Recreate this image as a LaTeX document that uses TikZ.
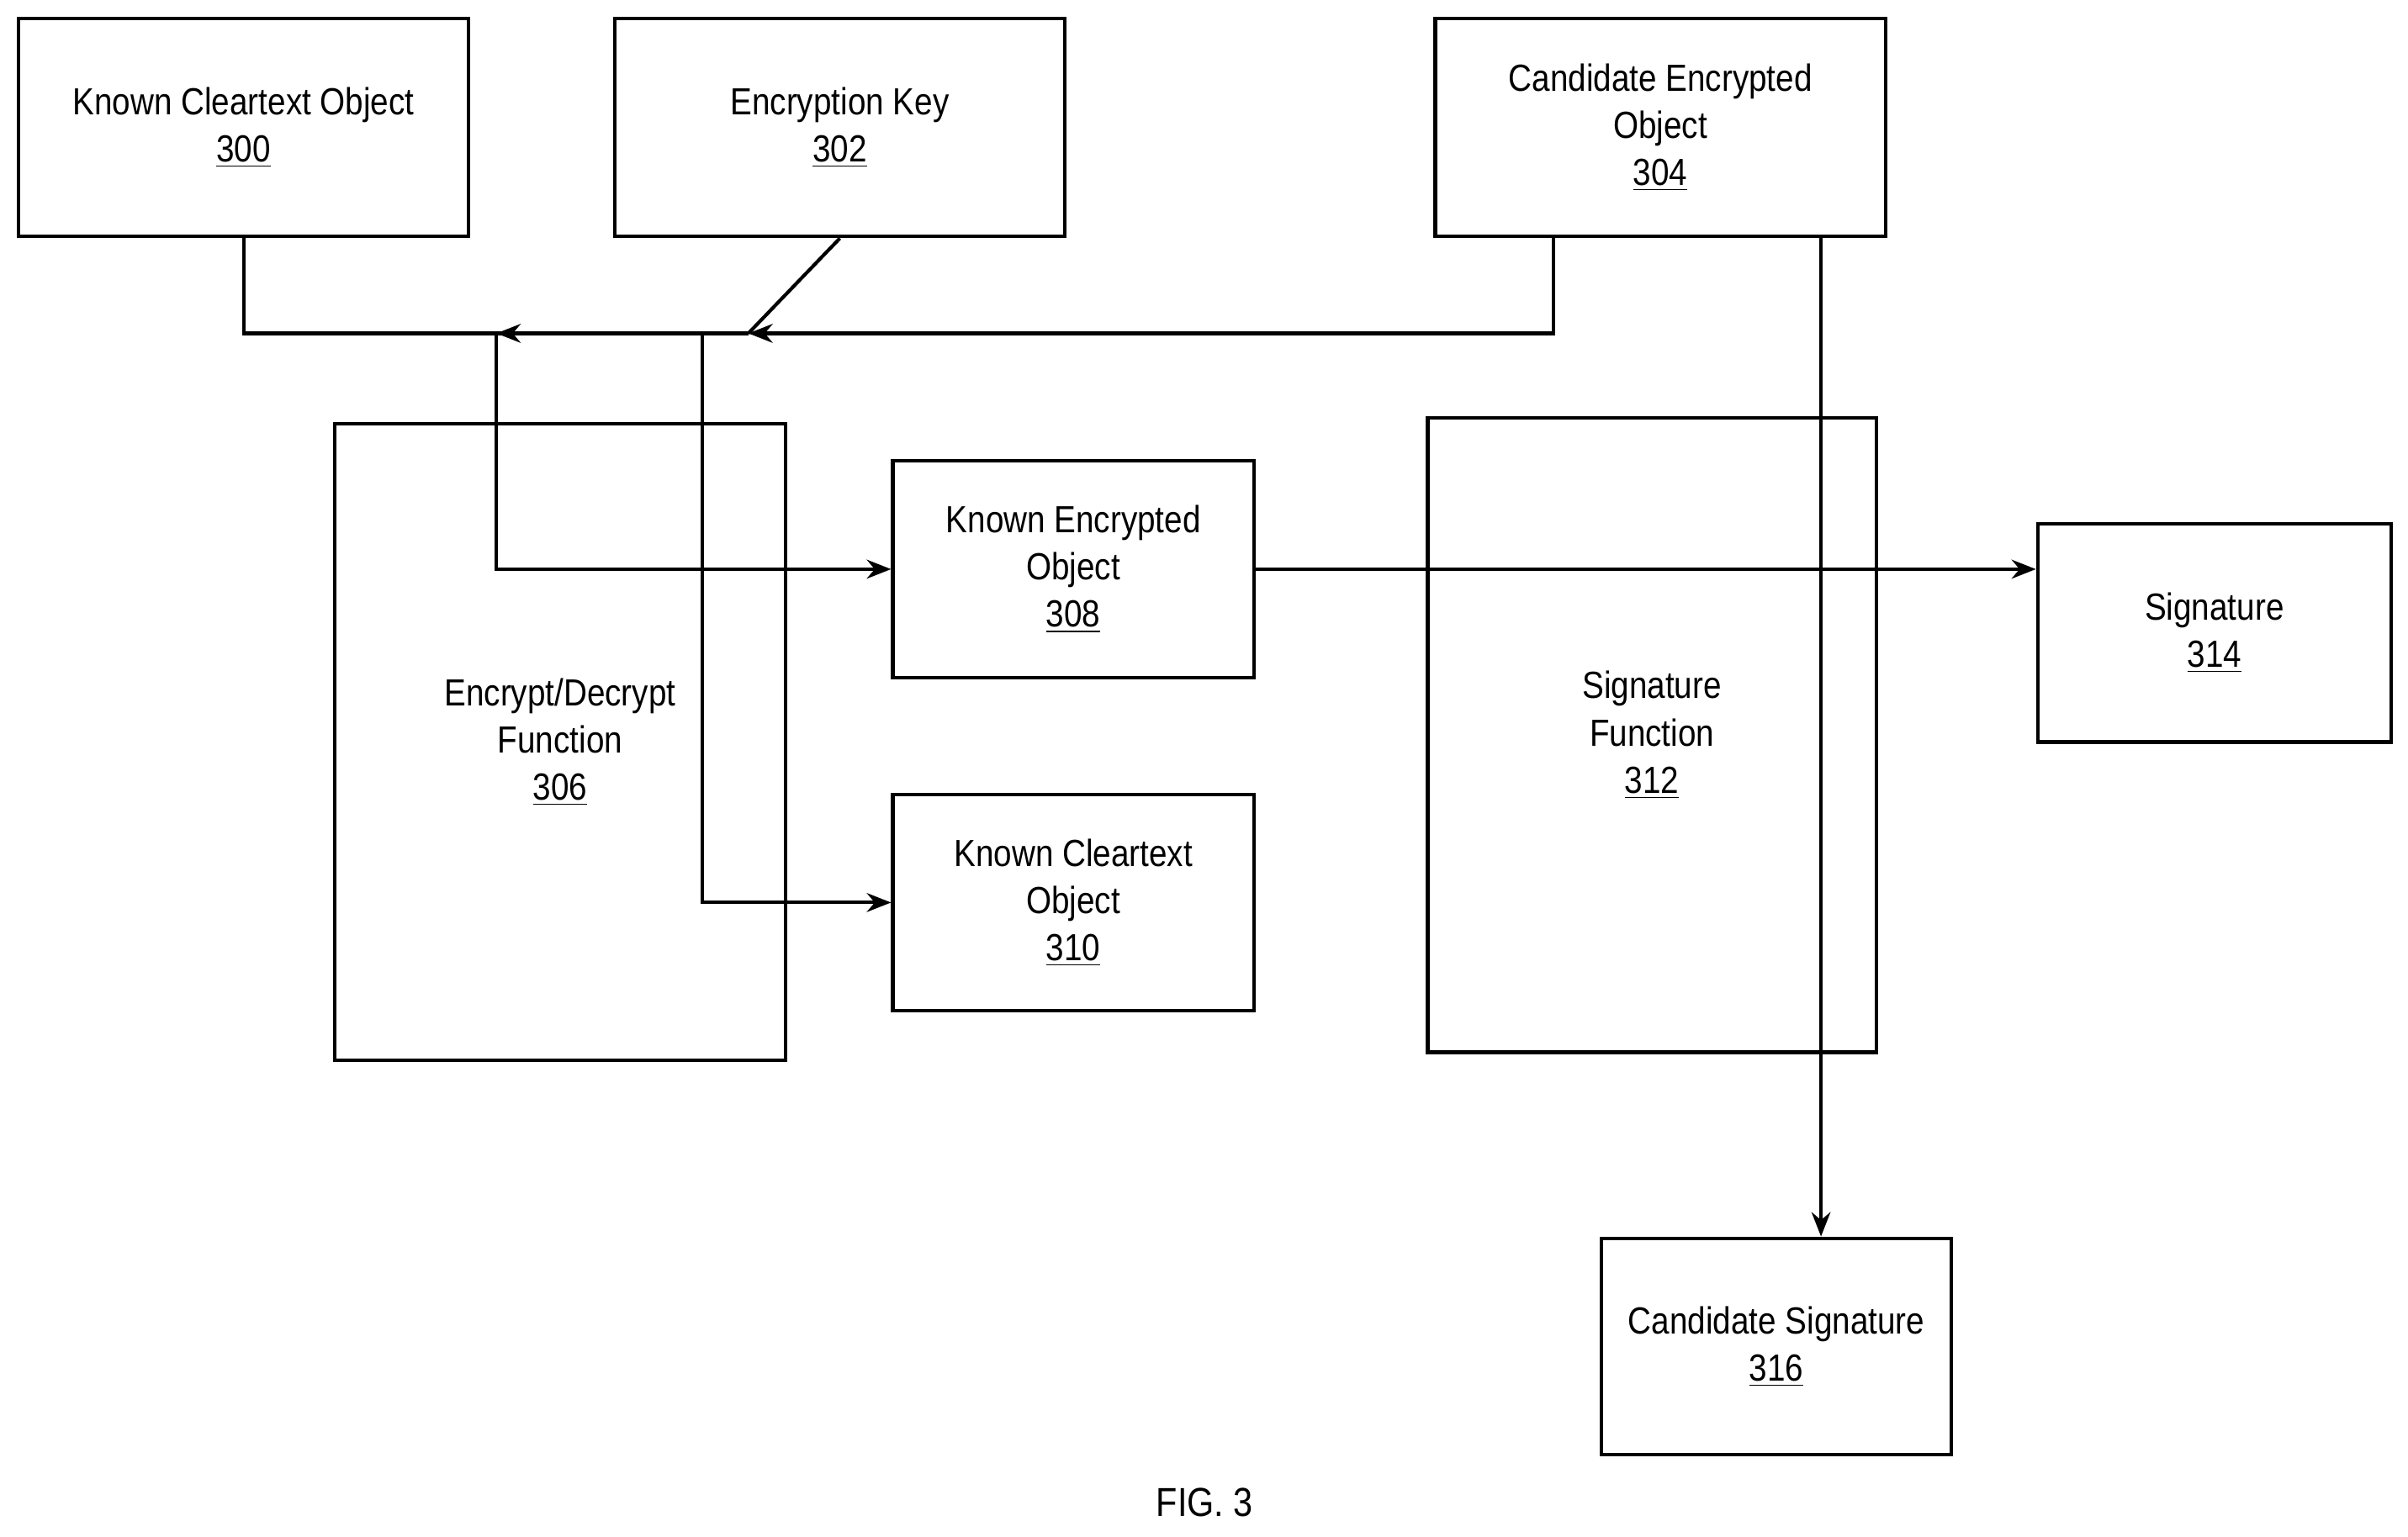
\documentclass[tikz,border=0pt]{standalone}
\usepackage{fontspec}
\setmainfont{Liberation Sans}[FakeStretch=0.86]
\usetikzlibrary{arrows.meta}

\tikzset{
  box/.style={draw, line width=1.3pt, align=center, inner sep=2pt,
    font=\fontsize{14}{17.5}\selectfont},
  arr/.style={-{Stealth[length=9pt,width=7pt]}},
}

\begin{document}
\begin{tikzpicture}[x=0.02cm,y=-0.02cm,line width=1.3pt]
	\useasboundingbox (0,0) rectangle (1567,1000);

	\node[box, minimum width=5.86cm, minimum height=2.84cm] (k300) at (158.5,83) {Known Cleartext Object\\\underline{300}};
	\node[box, minimum width=5.86cm, minimum height=2.84cm] (k302) at (546.5,83) {Encryption Key\\\underline{302}};
	\node[box, minimum width=5.86cm, minimum height=2.84cm] (k304) at (1080.5,83) {Candidate Encrypted\\Object\\\underline{304}};
	\node[box, minimum width=5.86cm, minimum height=8.28cm] (k306) at (364.5,483) {Encrypt/Decrypt\\Function\\\underline{306}};
	\node[box, minimum width=4.7cm, minimum height=2.82cm] (k308) at (698.5,370.5) {Known Encrypted\\Object\\\underline{308}};
	\node[box, minimum width=4.7cm, minimum height=2.82cm] (k310) at (698.5,587.5) {Known Cleartext\\Object\\\underline{310}};
	\node[box, minimum width=5.84cm, minimum height=8.26cm] (k312) at (1075,478.5) {Signature\\Function\\\underline{312}};
	\node[box, minimum width=4.6cm, minimum height=2.84cm] (k314) at (1441,412) {Signature\\\underline{314}};
	\node[box, minimum width=4.56cm, minimum height=2.82cm] (k316) at (1156,876.5) {Candidate Signature\\\underline{316}};
	\node[font=\fontsize{15}{18}\selectfont] (fig) at (784,978) {FIG. 3};

	% junctions on the feed line
	\coordinate (ja) at (323,217);
	\coordinate (jb) at (487,217);
	\coordinate (jc) at (457,217);
	\coordinate (jd) at (1011,154);
	\coordinate (je) at (1185,154);

	\draw (k300.south) |- (jb);
	\draw[arr] (jb) -- (ja);
	\draw (k302.south) -- (jb);
	\draw[arr] (jd) |- (jb);
	\draw[arr] (ja) |- (k308.west);
	\draw[arr] (jc) |- (k310.west);
	\draw[arr] (k308.east) -- (k308.east -| k314.west);
	\draw[arr] (je) -- (je |- k316.north);
\end{tikzpicture}
\end{document}
